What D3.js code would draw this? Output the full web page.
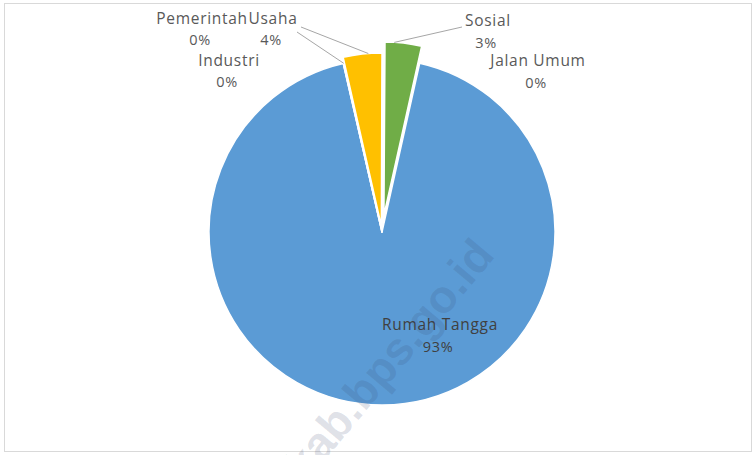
<!DOCTYPE html>
<html><head><meta charset="utf-8">
<script src="https://cdn.jsdelivr.net/npm/d3@7"></script>
<style>body{margin:0;background:#fff;overflow:hidden}</style>
</head><body>
<svg id="c" width="755" height="455"></svg>
<script>
// ---- data ----
const categories = ["Rumah Tangga", "Industri", "Pemerintah", "Usaha", "Jalan Umum", "Sosial"];
const values = [92.9, 0.03, 0.03, 3.6, 0.04, 3.4];
const percentLabels = ["93%", "0%", "0%", "4%", "0%", "3%"];
const watermarkText = "kab.bps.go.id";

// ---- style / layout ----
const colors = ["#5b9bd5", "#ed7d31", "#a5a5a5", "#ffc000", "#4472c4", "#70ad47"];
const explode = [0, 0, 0, 6, 0, 17];
const labelPos = [[440, 330], [229, 66], [202, 24], [273, 24], [538, 66], [488, 26]];
const pctGap = [22, 21, 21, 21, 22, 22];
const leaderFrom = [null, null, [297, 32], [301, 27], null, [462, 27]];
const leaderFrac = [0, 0, 0.55, 0.65, 0, 0.25];
const cx = 382, cy = 232, R = 173;
const startDeg = 12.6;

const svg = d3.select("#c");
svg.append("rect").attr("x", 4.5).attr("y", 3.5).attr("width", 747).attr("height", 448)
  .attr("fill", "#fff").attr("stroke", "#d9d9d9").attr("stroke-width", 1);

const data = categories.map((c, i) => ({ name: c, value: values[i], i }));
const start = startDeg * Math.PI / 180;
const pie = d3.pie().value(d => d.value).sort(null).startAngle(start).endAngle(start + 2 * Math.PI);
const arcs = pie(data);
const arc = d3.arc().innerRadius(0).outerRadius(R);

const g = svg.append("g").attr("transform", `translate(${cx},${cy})`);

function offset(a) {
  const mid = (a.startAngle + a.endAngle) / 2;
  const e = explode[a.data.i];
  return [e * Math.sin(mid), -e * Math.cos(mid)];
}

g.selectAll("path.slice").data(arcs).join("path")
  .attr("class", "slice")
  .attr("d", arc)
  .attr("transform", d => { const o = offset(d); return `translate(${o[0]},${o[1]})`; })
  .attr("fill", d => colors[d.data.i])
  .attr("stroke", "#fff").attr("stroke-width", 1.5)
  .attr("stroke-linejoin", "round");

// leader lines
arcs.forEach(a => {
  const i = a.data.i;
  if (!leaderFrom[i]) return;
  const ang = a.startAngle + leaderFrac[i] * (a.endAngle - a.startAngle);
  const o = offset(a);
  const px = cx + o[0] + R * Math.sin(ang), py = cy + o[1] - R * Math.cos(ang);
  svg.append("line").attr("x1", leaderFrom[i][0]).attr("y1", leaderFrom[i][1])
    .attr("x2", px).attr("y2", py)
    .attr("stroke", "#a6a6a6").attr("stroke-width", 1);
});

// labels
const lab = svg.append("g").attr("font-family", "'Open Sans', sans-serif").attr("font-size", 15.5)
  .attr("letter-spacing", 0.7).attr("text-anchor", "middle");
arcs.forEach(a => {
  const i = a.data.i;
  const [x, y] = labelPos[i];
  const fill = i === 0 ? "#404040" : "#595959";
  lab.append("text").attr("x", x).attr("y", y).attr("fill", fill).text(categories[i]);
  lab.append("text").attr("x", x - 2).attr("y", y + pctGap[i]).attr("fill", fill)
    .attr("font-size", 14.5).text(percentLabels[i]);
});

// watermark
svg.append("text").text(watermarkText)
  .attr("transform", "translate(496,256) rotate(-50)")
  .attr("text-anchor", "end")
  .attr("font-family", "'Liberation Sans', Arial, sans-serif")
  .attr("font-weight", "bold").attr("font-size", 46)
  .attr("fill", "#3a4a70").attr("fill-opacity", 0.16);
</script>
</body></html>
